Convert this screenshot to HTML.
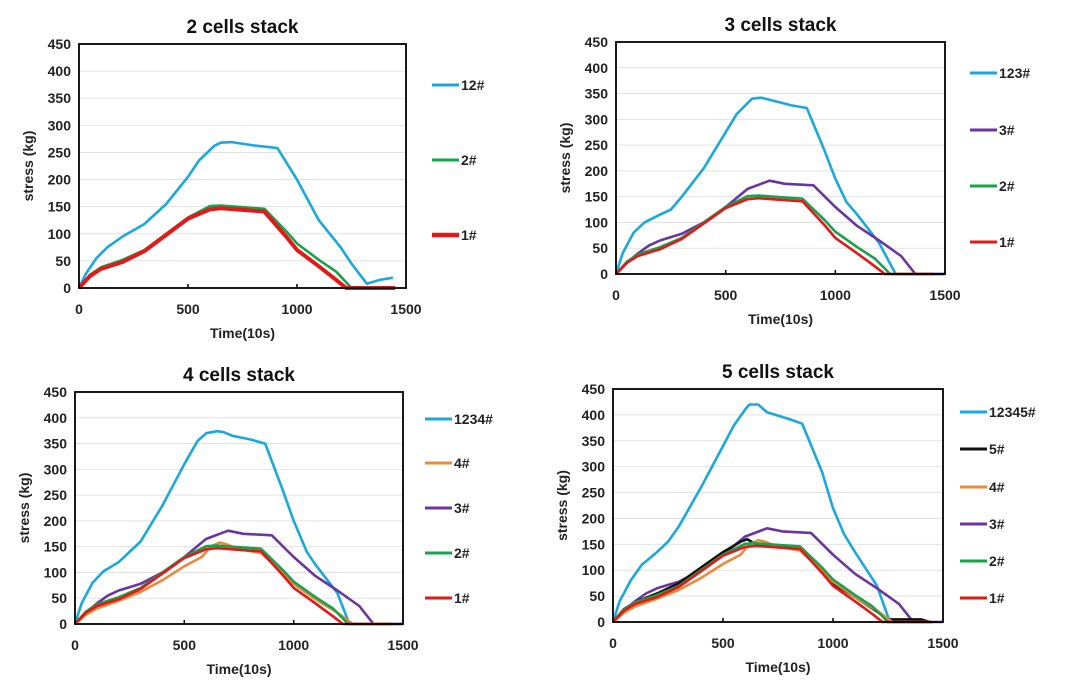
<!DOCTYPE html>
<html><head><meta charset="utf-8"><style>
body{margin:0;background:#fff;}
svg{display:block;font-family:"Liberation Sans",sans-serif;font-weight:bold;}
</style></head><body>
<svg id="chart" width="1080" height="697" viewBox="0 0 1080 697"></svg>
<script>
const xTicks=[0,500,1000,1500];
const yTicks=[0,50,100,150,200,250,300,350,400,450];
const t1=[0,50,100,200,300,400,500,600,650,750,850,950,1000,1100,1180,1225,1450];
const v1=[0,22,35,48,68,98,128,145,147,144,141,95,70,40,15,0,0];
const t2=[0,50,100,200,300,400,500,600,650,750,850,950,1000,1100,1180,1250,1450];
const v2=[0,24,38,52,70,100,130,151,152,149,146,105,82,52,30,0,0];
const t12=[0,30,80,130,200,300,400,500,550,620,650,700,800,910,1000,1100,1200,1250,1320,1380,1440];
const v12=[0,25,55,75,95,118,155,205,235,262,268,269,263,258,200,125,75,45,8,15,19];
const t123=[0,30,80,130,200,250,300,400,500,550,620,660,700,800,870,950,1000,1050,1100,1200,1275,1500];
const v123=[0,40,80,100,115,125,150,205,275,310,340,342,338,327,322,240,185,140,115,60,0,0];
const t3=[0,50,100,150,200,300,400,500,600,700,770,900,1000,1100,1200,1300,1365,1500];
const v3=[0,22,40,55,65,78,100,130,165,181,175,172,130,93,65,35,0,0];
const t1234=[0,30,80,130,200,300,400,500,560,600,650,680,720,800,870,950,1000,1060,1100,1200,1255,1500];
const v1234=[0,40,80,102,120,160,230,310,355,370,374,372,365,358,350,260,200,140,115,60,0,0];
const t4=[0,50,100,200,300,400,500,580,620,660,690,750,850,950,1000,1100,1200,1270,1450];
const v4=[0,18,30,45,62,85,112,130,150,158,155,145,138,100,78,48,22,0,0];
const t12345=[0,30,80,130,200,250,300,400,500,550,600,620,660,700,800,860,950,1000,1050,1100,1200,1250,1265];
const v12345=[0,40,80,110,135,155,185,260,340,380,410,420,420,405,392,383,290,220,170,135,70,10,0];
const t5=[0,50,100,200,300,400,500,580,610,650,750,850,950,1000,1100,1200,1250,1400,1440];
const v5=[0,25,38,55,75,105,135,155,160,150,146,140,100,75,48,20,5,5,0];

const C={blue:"#1ba8dc",green:"#16a34a",red:"#e31919",purple:"#6b35a0",orange:"#ec8a3c",black:"#111"};
const NS="http://www.w3.org/2000/svg";
const svg=document.getElementById("chart");
function el(tag,attrs,parent){const e=document.createElementNS(NS,tag);for(const k in attrs)e.setAttribute(k,attrs[k]);(parent||svg).appendChild(e);return e;}

function chart(p){
  const g=el("g",{});
  
  
  const sx=v=>p.x0+(v/1500)*(p.x1-p.x0);
  const sy=v=>p.y1-(v/450)*(p.y1-p.y0);
  yTicks.forEach(v=>{
    if(v>0&&v<450){const l=el("line",{x1:p.x0,x2:p.x1,y1:sy(v),y2:sy(v),stroke:"#e2e2e2","stroke-width":1},g);
    }
    const t=el("text",{x:p.x0-8,y:sy(v)+5,"text-anchor":"end","font-size":14,fill:"#222"},g);t.textContent=v;
    
  });
  xTicks.forEach(v=>{
    const t=el("text",{x:sx(v),y:p.y1+26,"text-anchor":"middle","font-size":14,fill:"#222"},g);t.textContent=v;
    
    if(v>0&&v<1500){el("line",{x1:sx(v),x2:sx(v),y1:p.y1,y2:p.y1-4,stroke:"#000","stroke-width":1.5},g);}
  });
  p.series.forEach(s=>{
    const d=s.t.map((x,i)=>(i?"L":"M")+sx(x).toFixed(1)+","+sy(s.v[i]).toFixed(1)).join("");
    const path=el("path",{d:d,fill:"none",stroke:s.c,"stroke-width":s.w||2.6,"stroke-linejoin":"round"},g);
    
    
  });
  const box=el("rect",{x:p.x0,y:p.y0,width:p.x1-p.x0,height:p.y1-p.y0,fill:"none",stroke:"#000","stroke-width":1.8},g);
  
  const ti=el("text",{x:(p.x0+p.x1)/2,y:p.y0-11,"text-anchor":"middle","font-size":19,fill:"#111"},g);ti.textContent=p.title;
  
  const xt=el("text",{x:(p.x0+p.x1)/2,y:p.y1+50,"text-anchor":"middle","font-size":14,fill:"#222"},g);xt.textContent="Time(10s)";
  
  const yc=(p.y0+p.y1)/2;
  const yt=el("text",{x:0,y:0,transform:`translate(${p.x0-46},${yc}) rotate(-90)`,"text-anchor":"middle","font-size":14,fill:"#222"},g);yt.textContent="stress (kg)";
  
  p.legend.forEach((s,i)=>{
    const y=p.ly[i];
    const lg=el("g",{},g);
    
    el("line",{x1:p.lx,x2:p.lx+27,y1:y,y2:y,stroke:s.c,"stroke-width":s.w||3},lg);
    const t=el("text",{x:p.lx+29,y:y+5,"font-size":14,fill:"#222"},lg);t.textContent=s.label;
  });
}
const R={t:t1,v:v1,c:C.red,label:"1#"}, G={t:t2,v:v2,c:C.green,label:"2#"},P={t:t3,v:v3,c:C.purple,label:"3#"},O={t:t4,v:v4,c:C.orange,label:"4#"},K={t:t5,v:v5,c:C.black,label:"5#"};
chart({name:"chart-2-cells",title:"2 cells stack",x0:79,x1:406,y0:44,y1:288,lx:432,ly:[85,160,235],
  series:[{t:t12,v:v12,c:C.blue,label:"12#"},G,{t:t1,v:v1,c:C.red,label:"1#",w:4}],
  legend:[{c:C.blue,label:"12#"},{c:C.green,label:"2#"},{c:C.red,label:"1#",w:4.5}]});
chart({name:"chart-3-cells",title:"3 cells stack",x0:616,x1:945,y0:42,y1:274,lx:970,ly:[73,130,186,242],
  series:[{t:t123,v:v123,c:C.blue,label:"123#"},P,G,R],
  legend:[{c:C.blue,label:"123#"},P,G,R]});
chart({name:"chart-4-cells",title:"4 cells stack",x0:75,x1:403,y0:392,y1:624,lx:425,ly:[419,463,508,553,598],
  series:[{t:t1234,v:v1234,c:C.blue,label:"1234#"},P,O,G,R],
  legend:[{c:C.blue,label:"1234#"},O,P,G,R]});
chart({name:"chart-5-cells",title:"5 cells stack",x0:613,x1:943,y0:389,y1:622,lx:960,ly:[412,449,487,524,561,598],
  series:[{t:t12345,v:v12345,c:C.blue,label:"12345#"},P,K,O,G,R],
  legend:[{c:C.blue,label:"12345#"},K,O,P,G,R]});
</script>
</body></html>
